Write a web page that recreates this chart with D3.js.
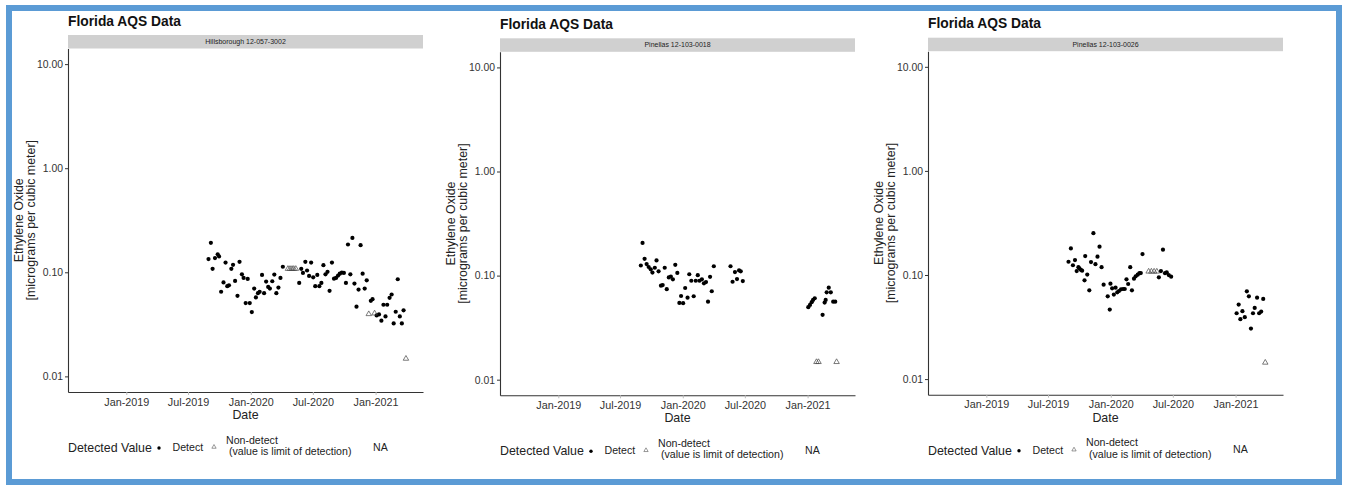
<!DOCTYPE html>
<html><head><meta charset="utf-8">
<script src="https://cdn.jsdelivr.net/npm/d3@7"></script>
<style>
body{margin:0;background:#fff;}
svg{display:block;font-family:"Liberation Sans",Arial,sans-serif;}
</style>
</head><body>
<svg id="chart" width="1346" height="485"></svg>
<script>
// ---------------- DATA ----------------
const chartTitle = "Florida AQS Data";
const siteLabels = ["Hillsborough 12-057-3002", "Pinellas 12-103-0018", "Pinellas 12-103-0026"];
const yTickValues = [0.01, 0.1, 1, 10];
const yTickLabels = ["0.01", "0.10", "1.00", "10.00"];
const xTickDates = ["2019-01-01", "2019-07-01", "2020-01-01", "2020-07-01", "2021-01-01"];
const xTickLabels = ["Jan-2019", "Jul-2019", "Jan-2020", "Jul-2020", "Jan-2021"];
const xAxisTitle = "Date";
const yAxisTitle = ["Ethylene Oxide", "[micrograms per cubic meter]"];
const legendTitle = "Detected Value";
const legendLabels = ["Detect", "Non-detect", " (value is limit of detection)", "NA"];

// Hillsborough 12-057-3002
const hillsDetectDates = ["2019-08-30","2019-09-06","2019-09-11","2019-09-18","2019-09-26","2019-09-30","2019-10-06","2019-10-13","2019-10-19","2019-10-24","2019-10-29","2019-11-05","2019-11-10","2019-11-16","2019-11-23","2019-11-29","2019-12-06","2019-12-11","2019-12-17","2019-12-23","2019-12-29","2020-01-04","2020-01-11","2020-01-16","2020-01-22","2020-01-27","2020-02-03","2020-02-09","2020-02-15","2020-02-21","2020-02-26","2020-03-04","2020-03-10","2020-03-16","2020-03-22","2020-03-28","2020-04-04","2020-05-22","2020-05-28","2020-06-02","2020-06-09","2020-06-14","2020-06-20","2020-06-26","2020-07-02","2020-07-08","2020-07-14","2020-07-20","2020-07-26","2020-08-01","2020-08-07","2020-08-13","2020-08-19","2020-08-26","2020-09-01","2020-09-07","2020-09-13","2020-09-18","2020-09-24","2020-09-30","2020-10-06","2020-10-12","2020-10-19","2020-10-25","2020-10-31","2020-11-06","2020-11-12","2020-11-18","2020-11-24","2020-11-30","2020-12-06","2020-12-18","2020-12-23","2021-01-04","2021-01-11","2021-01-18","2021-01-24","2021-01-30","2021-02-04","2021-02-11","2021-02-17","2021-02-23","2021-03-01","2021-03-07","2021-03-13","2021-03-19","2021-03-24"];
const hillsDetectValues = [0.134,0.192,0.108,0.137,0.149,0.142,0.065,0.080,0.124,0.0735,0.075,0.108,0.118,0.0826,0.0594,0.126,0.0957,0.0882,0.0506,0.0863,0.0506,0.0415,0.0698,0.0573,0.063,0.0649,0.0943,0.063,0.0814,0.0724,0.0698,0.082,0.095,0.063,0.0713,0.0882,0.113,0.079,0.108,0.0986,0.126,0.104,0.0922,0.124,0.0895,0.0735,0.0943,0.0735,0.079,0.117,0.0957,0.101,0.0663,0.124,0.0869,0.0882,0.0929,0.0971,0.0993,0.0986,0.079,0.185,0.0957,0.214,0.0779,0.0467,0.0683,0.182,0.0971,0.0698,0.0838,0.0532,0.0552,0.0385,0.0394,0.0343,0.0488,0.0377,0.0488,0.0569,0.0612,0.0323,0.0418,0.0857,0.0377,0.0323,0.0431];
const hillsNondetectDates = ["2020-04-19","2020-04-25","2020-05-01","2020-05-06","2020-05-12","2020-12-12","2020-12-29","2021-03-31"];
const hillsNondetectValues = [0.108,0.108,0.108,0.108,0.108,0.0397,0.0403,0.0148];

// Pinellas 12-103-0018
const pin18DetectDates = ["2019-08-31","2019-09-05","2019-09-11","2019-09-17","2019-09-23","2019-09-29","2019-10-04","2019-10-11","2019-10-16","2019-10-22","2019-10-29","2019-11-03","2019-11-09","2019-11-15","2019-11-21","2019-11-27","2019-12-03","2019-12-10","2019-12-16","2019-12-22","2019-12-27","2020-01-02","2020-01-08","2020-01-15","2020-01-20","2020-01-26","2020-02-02","2020-02-08","2020-02-14","2020-02-19","2020-02-26","2020-03-03","2020-03-09","2020-03-15","2020-03-21","2020-03-26","2020-04-01","2020-05-20","2020-05-26","2020-06-02","2020-06-08","2020-06-14","2020-06-19","2020-06-25","2021-01-03","2021-01-08","2021-01-13","2021-01-17","2021-01-22","2021-02-14","2021-02-20","2021-02-23","2021-02-26","2021-03-04","2021-03-10","2021-03-17","2021-03-23"];
const pin18DetectValues = [0.125,0.206,0.145,0.129,0.121,0.115,0.107,0.119,0.140,0.110,0.080,0.081,0.119,0.074,0.096,0.098,0.092,0.127,0.106,0.0546,0.0637,0.0543,0.076,0.0614,0.103,0.0892,0.0633,0.0892,0.101,0.0892,0.092,0.0843,0.0867,0.0562,0.0974,0.0707,0.123,0.123,0.0873,0.108,0.0926,0.112,0.110,0.0886,0.0497,0.0523,0.0555,0.0584,0.0606,0.042,0.055,0.0584,0.0691,0.0765,0.0691,0.0562,0.0562];
const pin18NondetectDates = ["2021-01-27","2021-02-02","2021-03-27"];
const pin18NondetectValues = [0.0148,0.0148,0.0148];

// Pinellas 12-103-0026
const pin26DetectDates = ["2019-08-30","2019-09-06","2019-09-12","2019-09-18","2019-09-23","2019-09-28","2019-10-01","2019-10-05","2019-10-09","2019-10-16","2019-10-18","2019-10-24","2019-10-30","2019-11-04","2019-11-11","2019-11-17","2019-11-23","2019-11-29","2019-12-05","2019-12-11","2019-12-23","2019-12-29","2019-12-31","2020-01-05","2020-01-10","2020-01-15","2020-01-20","2020-01-25","2020-01-31","2020-02-06","2020-02-11","2020-02-16","2020-02-21","2020-02-27","2020-03-03","2020-03-09","2020-03-14","2020-03-20","2020-03-25","2020-03-29","2020-04-03","2020-05-21","2020-05-27","2020-06-02","2020-06-08","2020-06-13","2020-06-19","2020-06-26","2021-01-04","2021-01-10","2021-01-15","2021-01-21","2021-01-28","2021-02-03","2021-02-09","2021-02-15","2021-02-21","2021-02-26","2021-03-05","2021-03-11","2021-03-17","2021-03-23"];
const pin26DetectValues = [0.134,0.180,0.124,0.139,0.109,0.119,0.116,0.112,0.110,0.0888,0.152,0.101,0.0713,0.133,0.252,0.127,0.150,0.187,0.119,0.0807,0.0624,0.0465,0.0825,0.0745,0.0648,0.0756,0.0682,0.0702,0.0729,0.0734,0.0734,0.0908,0.0819,0.119,0.0713,0.0922,0.097,0.1007,0.1044,0.1044,0.159,0.0949,0.109,0.175,0.104,0.106,0.0999,0.0963,0.0429,0.052,0.0376,0.0449,0.0393,0.0697,0.0624,0.0306,0.0429,0.0483,0.0606,0.0429,0.0445,0.0589];
const pin26NondetectDates = ["2020-04-21","2020-04-29","2020-05-07","2020-05-15","2021-03-29"];
const pin26NondetectValues = [0.108,0.108,0.108,0.108,0.0144];

// ---------------- LAYOUT ----------------
const detectDates = [hillsDetectDates, pin18DetectDates, pin26DetectDates];
const detectValues = [hillsDetectValues, pin18DetectValues, pin26DetectValues];
const nondetectDates = [hillsNondetectDates, pin18NondetectDates, pin26NondetectDates];
const nondetectValues = [hillsNondetectValues, pin18NondetectValues, pin26NondetectValues];

const panelLeft = [68, 500, 928];
const panelStripTop = [35, 38.3, 37.7];
const plotW = 355, plotH = 343.5, stripH = 13.5;

const svg = d3.select("#chart");
const parse = d3.utcParse("%Y-%m-%d");

// frame
svg.append("rect").attr("x", 9).attr("y", 8).attr("width", 1330).attr("height", 474)
  .attr("fill", "none").attr("stroke", "#5b9bd5").attr("stroke-width", 6);

const x = d3.scaleUtc().domain([parse("2018-07-14"), parse("2021-05-20")]).range([0, plotW]);
const y = d3.scaleLog().domain([Math.pow(10, -2.15), Math.pow(10, 1.15)]).range([plotH, 0]);

siteLabels.forEach((site, p) => {
  const left = panelLeft[p];
  const stripTop = panelStripTop[p];
  const top = stripTop + stripH;
  const g = svg.append("g").attr("transform", `translate(${left},${top})`);

  // title
  svg.append("text").attr("x", left).attr("y", stripTop - 9.5)
    .attr("font-size", "13.8px").attr("font-weight", "bold").attr("fill", "#111")
    .text(chartTitle);

  // strip
  svg.append("rect").attr("x", left).attr("y", stripTop).attr("width", plotW).attr("height", stripH)
    .attr("fill", "#d0d0d0");
  svg.append("text").attr("x", left + plotW / 2).attr("y", stripTop + stripH / 2 + 2.4)
    .attr("text-anchor", "middle").attr("font-size", "7px").attr("fill", "#222").text(site);

  // y axis
  const yAxis = d3.axisLeft(y).tickValues(yTickValues)
    .tickFormat((d, i) => yTickLabels[i]).tickSize(3).tickSizeOuter(0).tickPadding(2);
  const yg = g.append("g").call(yAxis);
  yg.select(".domain").attr("stroke", "#333").attr("stroke-width", 1.1);
  yg.selectAll(".tick line").attr("stroke", "#333");
  yg.selectAll(".tick text").attr("font-size", "10.4px").attr("fill", "#333")
    .attr("font-family", "Liberation Sans, Arial, sans-serif");

  // x axis
  const xAxis = d3.axisBottom(x).tickValues(xTickDates.map(parse))
    .tickFormat((d, i) => xTickLabels[i]).tickSize(3).tickSizeOuter(0).tickPadding(3);
  const xg = g.append("g").attr("transform", `translate(0,${plotH})`).call(xAxis);
  xg.select(".domain").attr("stroke", "#333").attr("stroke-width", 1.1);
  xg.selectAll(".tick line").attr("stroke", "#bbb");
  xg.selectAll(".tick text").attr("font-size", "10.8px").attr("fill", "#333")
    .attr("font-family", "Liberation Sans, Arial, sans-serif");

  // axis titles
  g.append("text").attr("x", plotW / 2).attr("y", plotH + 27)
    .attr("text-anchor", "middle").attr("font-size", "12.4px").attr("fill", "#222").text(xAxisTitle);
  const cy = plotH / 2;
  g.append("text").attr("transform", `translate(-45.5,${cy}) rotate(-90)`)
    .attr("text-anchor", "middle").attr("font-size", "12.4px").attr("fill", "#222").text(yAxisTitle[0]);
  g.append("text").attr("transform", `translate(-33,${cy}) rotate(-90)`)
    .attr("text-anchor", "middle").attr("font-size", "12.4px").attr("fill", "#222").text(yAxisTitle[1]);

  // data: detects
  const det = detectDates[p].map((d, i) => ({date: parse(d), value: detectValues[p][i]}));
  g.append("g").selectAll("circle").data(det).join("circle")
    .attr("cx", d => x(d.date)).attr("cy", d => y(d.value)).attr("r", 2.1).attr("fill", "#000");

  // data: non-detects
  const nd = nondetectDates[p].map((d, i) => ({date: parse(d), value: nondetectValues[p][i]}));
  const tri = d3.symbol(d3.symbolTriangle).size(13);
  g.append("g").selectAll("path").data(nd).join("path")
    .attr("d", tri).attr("transform", d => `translate(${x(d.date)},${y(d.value)})`)
    .attr("fill", "none").attr("stroke", "#444").attr("stroke-width", 0.7);

  // legend
  const lb = top + plotH + 60;
  svg.append("text").attr("x", left).attr("y", lb).attr("font-size", "12.4px").attr("fill", "#222").text(legendTitle);
  svg.append("circle").attr("cx", left + 91).attr("cy", lb - 4).attr("r", 1.7).attr("fill", "#000");
  svg.append("text").attr("x", left + 104.5).attr("y", lb - 1).attr("font-size", "10.6px").attr("fill", "#222").text(legendLabels[0]);
  svg.append("path").attr("d", d3.symbol(d3.symbolTriangle).size(8))
    .attr("transform", `translate(${left + 146},${lb - 5})`)
    .attr("fill", "none").attr("stroke", "#555").attr("stroke-width", 0.6);
  svg.append("text").attr("x", left + 158).attr("y", lb - 8.5).attr("font-size", "10.6px").attr("fill", "#222").text(legendLabels[1]);
  svg.append("text").attr("x", left + 158).attr("y", lb + 3).attr("font-size", "10.6px").attr("fill", "#222")
    .attr("xml:space", "preserve").style("white-space", "pre").text(legendLabels[2]);
  svg.append("text").attr("x", left + 305).attr("y", lb - 1.5).attr("font-size", "10.6px").attr("fill", "#222").text(legendLabels[3]);
});
</script>
</body></html>
